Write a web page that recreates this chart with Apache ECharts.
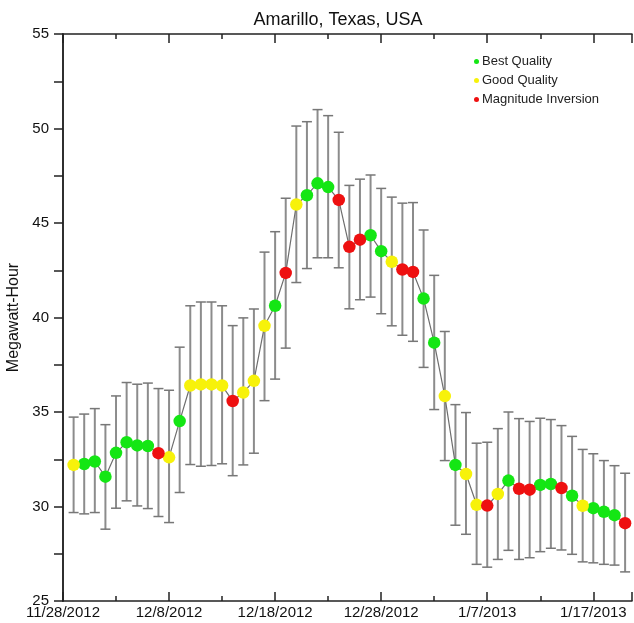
<!DOCTYPE html>
<html>
<head>
<meta charset="utf-8">
<script src="https://cdn.jsdelivr.net/npm/echarts@6/dist/echarts.min.js"></script>
<style>
  html, body { margin: 0; padding: 0; background: #fff; }
  #chart { width: 634px; height: 623px; }
</style>
</head>
<body>
<div id="chart"></div>
<script>
// days after 11/28/2012
const dayOffsets = [1, 2, 3, 4, 5, 6, 7, 8, 9, 10, 11, 12, 13, 14, 15, 16, 17, 18, 19, 20,
  21, 22, 23, 24, 25, 26, 27, 28, 29, 30, 31, 32, 33, 34, 35, 36, 37, 38, 39, 40,
  41, 42, 43, 44, 45, 46, 47, 48, 49, 50, 51, 52, 53]
const values = [32.2, 32.25, 32.38, 31.58, 32.84, 33.4, 33.23, 33.2, 32.82, 32.6,
  34.52, 36.4, 36.46, 36.46, 36.4, 35.58, 36.03, 36.65, 39.56, 40.62,
  42.36, 45.98, 46.47, 47.1, 46.9, 46.22, 43.74, 44.12, 44.35, 43.51,
  42.95, 42.54, 42.41, 41.0, 38.67, 35.84, 32.2, 31.72, 30.09, 30.05,
  30.66, 31.37, 30.94, 30.89, 31.14, 31.19, 30.98, 30.57, 30.04, 29.91,
  29.72, 29.54, 29.12]
const lowBounds = [29.68, 29.61, 29.68, 28.8, 29.91, 30.3, 30.03, 29.89, 29.47, 29.15,
  30.74, 32.22, 32.13, 32.17, 32.26, 31.63, 32.2, 32.82, 35.6, 36.74,
  38.38, 41.85, 42.59, 43.16, 43.16, 42.63, 40.46, 40.94, 41.08, 40.2,
  39.56, 39.06, 38.74, 37.36, 35.13, 32.43, 29.01, 28.53, 26.94, 26.79,
  27.2, 27.68, 27.2, 27.29, 27.61, 27.79, 27.7, 27.47, 27.07, 27.02,
  26.94, 26.9, 26.54]
const highBounds = [34.73, 34.89, 35.18, 34.33, 35.85, 36.56, 36.47, 36.53, 36.24, 36.15,
  38.43, 40.62, 40.82, 40.82, 40.62, 39.57, 39.98, 40.45, 43.46, 44.54,
  46.31, 50.13, 50.36, 51.0, 50.68, 49.8, 46.99, 47.32, 47.54, 46.83,
  46.37, 46.05, 46.08, 44.63, 42.23, 39.26, 35.39, 34.97, 33.35, 33.4,
  34.12, 35.0, 34.65, 34.5, 34.67, 34.6, 34.28, 33.71, 33.02, 32.79,
  32.43, 32.16, 31.76]
// B = Best Quality, G = Good Quality, M = Magnitude Inversion
const quality = ['G', 'B', 'B', 'B', 'B', 'B', 'B', 'B', 'M', 'G',
  'B', 'G', 'G', 'G', 'G', 'M', 'G', 'G', 'G', 'B',
  'M', 'G', 'B', 'B', 'B', 'M', 'M', 'M', 'B', 'B',
  'G', 'M', 'M', 'B', 'B', 'G', 'B', 'G', 'G', 'M',
  'G', 'B', 'M', 'M', 'B', 'B', 'M', 'B', 'G', 'B',
  'B', 'B', 'M']
const tickDays = [0, 10, 20, 30, 40, 50]
const tickLabels = ['11/28/2012', '12/8/2012', '12/18/2012', '12/28/2012', '1/7/2013', '1/17/2013']

const X_MAX = 53.65
const axisColor = '#222'
const font = 'Liberation Sans, Arial, sans-serif'

const chart = echarts.init(document.getElementById('chart'))

const lineData = dayOffsets.map((d, i) => [d, values[i]])
const errData = dayOffsets.map((d, i) => [d, lowBounds[i], highBounds[i]])
const pick = (q) => {
  let out = []
  for (let i = 0; i < values.length; i++) {
    if (quality[i] === q) out.push([dayOffsets[i], values[i]])
  }
  return out
}

const xBase = {
  type: 'value',
  min: 0,
  max: X_MAX,
  splitLine: {show: false},
  axisLine: {show: true, lineStyle: {color: axisColor, width: 1.5}},
}

const option = {
  animation: false,
  title: {
    text: 'Amarillo, Texas, USA',
    left: 333,
    top: 6,
    textAlign: 'center',
    textStyle: {fontFamily: font, fontSize: 18, fontWeight: 'normal', color: '#111'}
  },
  legend: {
    orient: 'vertical',
    left: 469,
    top: 50,
    itemWidth: 5,
    itemHeight: 5,
    itemGap: 6,
    icon: 'circle',
    data: ['Best Quality', 'Good Quality', 'Magnitude Inversion'],
    textStyle: {fontFamily: font, fontSize: 13, color: '#222', padding: [0, 0, 0, -2]}
  },
  grid: {left: 63, right: 2, top: 34, bottom: 22, outerBoundsMode: 'none', containLabel: false},
  xAxis: [
    Object.assign({}, xBase, {
      position: 'bottom',
      interval: 10,
      axisTick: {show: true, inside: true, length: 9, lineStyle: {color: axisColor, width: 1.5}},
      axisLabel: {
        margin: 4,
        fontFamily: font, fontSize: 15, color: '#111',
        formatter: (v) => {
          let k = tickDays.indexOf(Math.round(v))
          return (Math.abs(v - Math.round(v)) < 1e-6 && k >= 0) ? tickLabels[k] : ''
        }
      }
    }),
    Object.assign({}, xBase, {
      position: 'bottom',
      interval: 5,
      axisLine: {show: false},
      axisTick: {show: true, inside: true, length: 5, lineStyle: {color: axisColor, width: 1.5}},
      axisLabel: {show: false}
    }),
    Object.assign({}, xBase, {
      position: 'top',
      interval: 10,
      axisTick: {show: true, inside: true, length: 9, lineStyle: {color: axisColor, width: 1.5}},
      axisLabel: {show: false}
    }),
    Object.assign({}, xBase, {
      position: 'top',
      interval: 5,
      axisLine: {show: false},
      axisTick: {show: true, inside: true, length: 5, lineStyle: {color: axisColor, width: 1.5}},
      axisLabel: {show: false}
    })
  ],
  yAxis: [
    {
      type: 'value',
      position: 'left',
      min: 25,
      max: 55,
      interval: 5,
      name: 'Megawatt-Hour',
      nameLocation: 'middle',
      nameGap: 40,
      nameTextStyle: {fontFamily: font, fontSize: 16, color: '#111'},
      splitLine: {show: false},
      axisLine: {show: true, lineStyle: {color: axisColor, width: 1.5}},
      axisTick: {show: true, length: 9, lineStyle: {color: axisColor, width: 1.5}},
      minorTick: {show: true, splitNumber: 2, length: 9, lineStyle: {color: axisColor, width: 1.5}},
      axisLabel: {margin: 14, fontFamily: font, fontSize: 15, color: '#111'}
    },
    {
      type: 'value',
      position: 'right',
      min: 25,
      max: 55,
      interval: 5,
      splitLine: {show: false},
      axisLine: {show: true, lineStyle: {color: axisColor, width: 1.5}},
      axisTick: {show: true, inside: true, length: 9, lineStyle: {color: axisColor, width: 1.5}},
      minorTick: {show: true, splitNumber: 2, length: 5, lineStyle: {color: axisColor, width: 1.5}},
      axisLabel: {show: false}
    }
  ],
  series: [
    {
      name: 'err',
      type: 'custom',
      data: errData,
      encode: {x: 0, y: [1, 2]},
      z: 1,
      renderItem: (params, api) => {
        let x = api.value(0)
        let pLo = api.coord([x, api.value(1)])
        let pHi = api.coord([x, api.value(2)])
        let hw = 5
        let st = {stroke: '#8c8c8c', lineWidth: 2}
        let cap = {stroke: '#777', lineWidth: 1.5}
        return {
          type: 'group',
          children: [
            {type: 'line', shape: {x1: pLo[0], y1: pLo[1], x2: pHi[0], y2: pHi[1]}, style: st},
            {type: 'line', shape: {x1: pHi[0] - hw, y1: pHi[1], x2: pHi[0] + hw, y2: pHi[1]}, style: cap},
            {type: 'line', shape: {x1: pLo[0] - hw, y1: pLo[1], x2: pLo[0] + hw, y2: pLo[1]}, style: cap}
          ]
        }
      }
    },
    {
      name: 'trend',
      type: 'line',
      data: lineData,
      showSymbol: false,
      z: 2,
      lineStyle: {color: '#6e6e6e', width: 1.2}
    },
    {
      name: 'Best Quality',
      type: 'scatter',
      data: pick('B'),
      symbolSize: 12.5,
      z: 3,
      itemStyle: {color: '#14e614', opacity: 1}
    },
    {
      name: 'Good Quality',
      type: 'scatter',
      data: pick('G'),
      symbolSize: 12.5,
      z: 3,
      itemStyle: {color: '#f7f20a', opacity: 1}
    },
    {
      name: 'Magnitude Inversion',
      type: 'scatter',
      data: pick('M'),
      symbolSize: 12.5,
      z: 3,
      itemStyle: {color: '#ee1010', opacity: 1}
    }
  ]
}

chart.setOption(option)
</script>
</body>
</html>
